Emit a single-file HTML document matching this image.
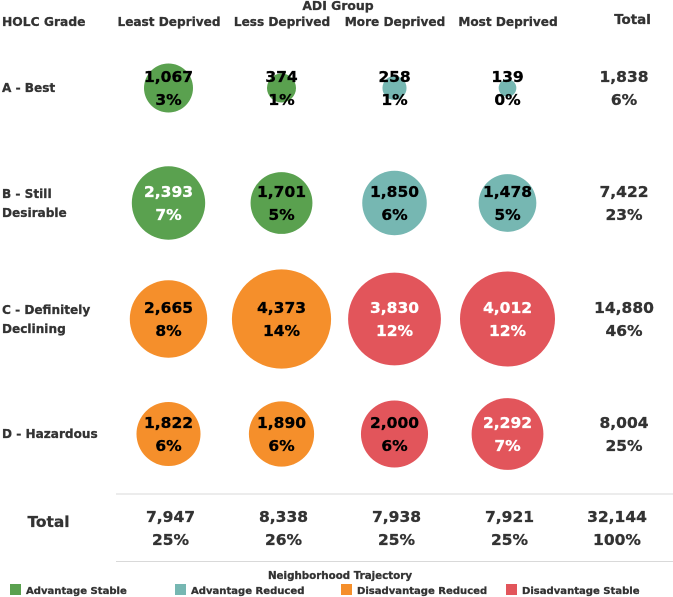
<!DOCTYPE html>
<html lang="en">
<head>
<meta charset="utf-8">
<title>HOLC Grade by ADI Group</title>
<style>
html,body{margin:0;padding:0;background:#fff;}
body{width:673px;height:597px;overflow:hidden;}
svg{display:block;}
text{font-family:"DejaVu Sans","Liberation Sans",sans-serif;font-weight:700;stroke:#333;stroke-width:0.3px;}
</style>
</head>
<body>
<svg id="chart" width="673" height="597" viewBox="0 0 673 597" xmlns="http://www.w3.org/2000/svg">
  <rect x="0" y="0" width="673" height="597" fill="#ffffff"/>
  <text x="338" y="10" text-anchor="middle" font-size="12.4" fill="#333">ADI Group</text>
  <text x="2" y="26" font-size="12.3" fill="#333">HOLC Grade</text>
  <text x="632.5" y="24" text-anchor="middle" font-size="13.4" fill="#333">Total</text>

  <text x="2" y="92" font-size="12.1" fill="#333">A - Best</text>
  <text x="2" y="198" font-size="12.1" fill="#333">B - Still</text>
  <text x="2" y="217" font-size="12.1" fill="#333">Desirable</text>
  <text x="2" y="314" font-size="12.1" fill="#333">C - Definitely</text>
  <text x="2" y="333" font-size="12.1" fill="#333">Declining</text>
  <text x="2" y="438" font-size="12.1" fill="#333">D - Hazardous</text>
  <text x="48.5" y="527" text-anchor="middle" font-size="15.4" fill="#333">Total</text>

  <line x1="116" y1="494" x2="673" y2="494" stroke="#d9d9d9" stroke-width="1"/>
  <line x1="116" y1="561.5" x2="673" y2="561.5" stroke="#d9d9d9" stroke-width="1"/>

  <g id="bubbles"></g>
  <g id="totals"></g>

  <text x="340" y="579" text-anchor="middle" font-size="10.3" fill="#333">Neighborhood Trajectory</text>
  <g id="legend"></g>
</svg>
<script>
const columnLabels = ['Least Deprived', 'Less Deprived', 'More Deprived', 'Most Deprived'];
const counts = [
  [1067, 374, 258, 139],
  [2393, 1701, 1850, 1478],
  [2665, 4373, 3830, 4012],
  [1822, 1890, 2000, 2292]
];
const percents = [
  [3, 1, 1, 0],
  [7, 5, 6, 5],
  [8, 14, 12, 12],
  [6, 6, 6, 7]
];
const trajectories = [
  ['Advantage Stable', 'Advantage Stable', 'Advantage Reduced', 'Advantage Reduced'],
  ['Advantage Stable', 'Advantage Stable', 'Advantage Reduced', 'Advantage Reduced'],
  ['Disadvantage Reduced', 'Disadvantage Reduced', 'Disadvantage Stable', 'Disadvantage Stable'],
  ['Disadvantage Reduced', 'Disadvantage Reduced', 'Disadvantage Stable', 'Disadvantage Stable']
];
const whiteLabels = [
  [0, 0, 0, 0],
  [1, 0, 0, 0],
  [0, 0, 1, 1],
  [0, 0, 0, 1]
];
const rowTotals = [1838, 7422, 14880, 8004];
const rowTotalPercents = [6, 23, 46, 25];
const columnTotals = [7947, 8338, 7938, 7921];
const columnTotalPercents = [25, 26, 25, 25];
const grandTotal = 32144;
const grandTotalPercent = 100;
const legendLabels = ['Advantage Stable', 'Advantage Reduced', 'Disadvantage Reduced', 'Disadvantage Stable'];

const SVG_NS = 'http://www.w3.org/2000/svg';
const palette = {
  'Advantage Stable': '#5aa14f',
  'Advantage Reduced': '#76b7b2',
  'Disadvantage Reduced': '#f58f2b',
  'Disadvantage Stable': '#e2555b'
};
function xCol(i) { return 168.5 + i * 113; }
function yRow(i) { return [88, 203, 319, 434][i]; }
function radius(v) { return 0.75 * Math.sqrt(v); }
function fmt(v) { return v.toLocaleString('en-US'); }
function make(tag, attrs, parent, content) {
  const el = document.createElementNS(SVG_NS, tag);
  Object.keys(attrs).forEach(function (k) { el.setAttribute(k, attrs[k]); });
  if (tag === 'text') { el.style.stroke = attrs.fill; }
  if (content !== undefined) { el.textContent = content; }
  parent.appendChild(el);
  return el;
}

const bubbles = document.getElementById('bubbles');
const totals = document.getElementById('totals');
const legend = document.getElementById('legend');

columnLabels.forEach(function (label, c) {
  const header = make('text', { x: xCol(c) + 0.5, y: 26, 'text-anchor': 'middle', 'font-size': 12.1, fill: '#333' }, totals, label);
  
  
});

counts.forEach(function (row, r) {
  row.forEach(function (v, c) {
    const circle = make('circle', { cx: xCol(c), cy: yRow(r), r: radius(v), fill: palette[trajectories[r][c]] }, bubbles);
    
    
    const color = whiteLabels[r][c] ? '#ffffff' : '#000000';
    const count = make('text', { x: xCol(c), y: yRow(r) - 6, 'text-anchor': 'middle', 'font-size': 15.5, fill: color }, bubbles, fmt(v));
    
    
    const pct = make('text', { x: xCol(c), y: yRow(r) + 17, 'text-anchor': 'middle', 'font-size': 15.5, fill: color }, bubbles, percents[r][c] + '%');
    
    
  });
  const rowCount = make('text', { x: 624, y: yRow(r) - 6, 'text-anchor': 'middle', 'font-size': 15.5, fill: '#333' }, totals, fmt(rowTotals[r]));
  
  
  const rowPct = make('text', { x: 624, y: yRow(r) + 17, 'text-anchor': 'middle', 'font-size': 15.5, fill: '#333' }, totals, rowTotalPercents[r] + '%');
  
  
});

columnTotals.forEach(function (v, c) {
  const colCount = make('text', { x: xCol(c) + 2, y: 522, 'text-anchor': 'middle', 'font-size': 15.5, fill: '#333' }, totals, fmt(v));
  
  
  const colPct = make('text', { x: xCol(c) + 2, y: 545, 'text-anchor': 'middle', 'font-size': 15.5, fill: '#333' }, totals, columnTotalPercents[c] + '%');
  
  
});

const grandCount = make('text', { x: 617, y: 522, 'text-anchor': 'middle', 'font-size': 15.5, fill: '#333' }, totals, fmt(grandTotal));


const grandPct = make('text', { x: 617, y: 545, 'text-anchor': 'middle', 'font-size': 15.5, fill: '#333' }, totals, grandTotalPercent + '%');



legendLabels.forEach(function (label, i) {
  const x = [10, 175, 341, 506][i];
  const swatch = make('rect', { x: x, y: 584, width: 11, height: 11, fill: palette[label] }, legend);
  
  
  const text = make('text', { x: x + 16, y: 594, 'font-size': 10.05, fill: '#333' }, legend, label);
  
  
});
</script>
</body>
</html>
